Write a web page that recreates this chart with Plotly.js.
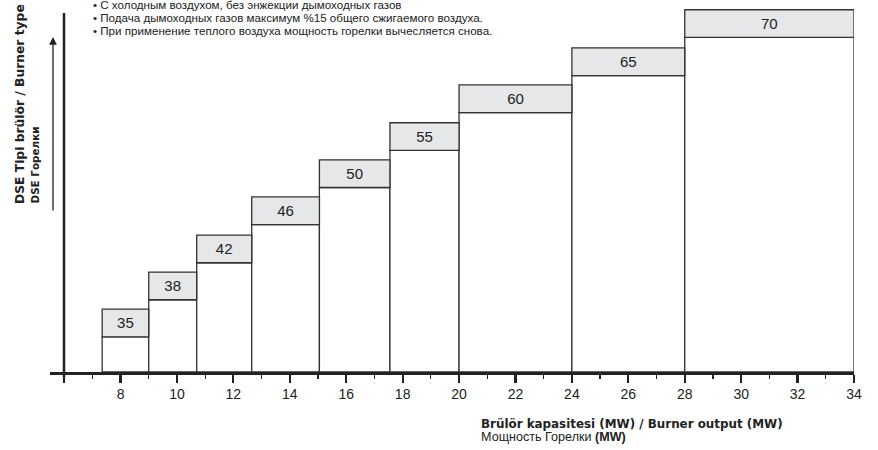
<!DOCTYPE html>
<html>
<head>
<meta charset="utf-8">
<script src="https://cdn.plot.ly/plotly-3.0.1.min.js"></script>
<style>html,body{margin:0;padding:0;background:#fff;}#chart{width:878px;height:450px;}</style>
</head>
<body>
<div id="chart"></div>
<script>
// Burner types (DSE) and their output ranges (MW)
const burnerTypes = [35, 38, 42, 46, 50, 55, 60, 65, 70];
const capMin = [7.35, 9.0, 10.7, 12.65, 15.05, 17.55, 20, 24, 28];
const capMax = [9.0, 10.7, 12.65, 15.05, 17.55, 20, 24, 28, 34];
// step height of each type's box (relative level)
const boxTop = [1.68, 2.67, 3.66, 4.68, 5.67, 6.66, 7.67, 8.66, 9.68];
const labelBand = 0.74;
const xTickVals = [6, 8, 10, 12, 14, 16, 18, 20, 22, 24, 26, 28, 30, 32, 34];
const xTickText = ['', '8', '10', '12', '14', '16', '18', '20', '22', '24', '26', '28', '30', '32', '34'];
const notes = [
  '• С холодным воздухом, без энжекции дымоходных газов',
  '• Подача дымоходных газов максимум %15 общего сжигаемого воздуха.',
  '• При применение теплого воздуха мощность горелки вычесляется снова.'
];

const centers = capMin.map((m, i) => (m + capMax[i]) / 2);
const widths = capMin.map((m, i) => capMax[i] - m);
const lineCol = '#333';

const bodyTrace = {
  type: 'bar', x: centers, width: widths, base: 0,
  y: boxTop.map(t => t - labelBand),
  marker: {color: '#ffffff', line: {color: lineCol, width: 1.3}},
  hoverinfo: 'skip', showlegend: false, cliponaxis: false
};
const bandTrace = {
  type: 'bar', x: centers, width: widths,
  base: boxTop.map(t => t - labelBand),
  y: boxTop.map(() => labelBand),
  marker: {color: '#e6e7e8', line: {color: lineCol, width: 1.3}},
  text: burnerTypes.map(String), textposition: 'inside', insidetextanchor: 'middle',
  textangle: 0, constraintext: 'none',
  textfont: {family: 'Liberation Sans, Arial, sans-serif', size: 15, color: '#222'},
  hoverinfo: 'skip', showlegend: false, cliponaxis: false
};

const W = 804, H = 363, L = 50, T = 9;
const px = x => (x - L) / W;
const py = y => (T + H - y) / H;

const annotations = [];
notes.forEach((n, i) => {
  annotations.push({
    xref: 'paper', yref: 'paper', x: px(92), y: py(4.5 + i * 13), xanchor: 'left', yanchor: 'middle',
    text: n, showarrow: false, borderpad: 0,
    font: {family: 'Liberation Sans Narrow, Arial Narrow, sans-serif', size: 11.6, color: '#222'}
  });
});
annotations.push({
  xref: 'paper', yref: 'paper', x: px(20), y: py(205), xanchor: 'center', yanchor: 'bottom',
  textangle: -90, text: '<b>DSE Tipi brülör / Burner type</b>', showarrow: false, borderpad: 0,
  font: {family: 'DejaVu Sans, sans-serif', size: 12.3, color: '#222'}
});
annotations.push({
  xref: 'paper', yref: 'paper', x: px(34), y: py(205), xanchor: 'center', yanchor: 'bottom',
  textangle: -90, text: '<b>DSE Горелки</b>', showarrow: false, borderpad: 0,
  font: {family: 'DejaVu Sans, sans-serif', size: 10.4, color: '#222'}
});
annotations.push({
  xref: 'paper', yref: 'paper', x: px(53), y: py(37), ax: 0, ay: 175,
  axref: 'pixel', ayref: 'pixel', text: '', showarrow: true,
  arrowhead: 2, arrowsize: 1.2, arrowwidth: 1.3, arrowcolor: '#222'
});
annotations.push({
  xref: 'paper', yref: 'paper', x: px(480), y: py(424), xanchor: 'left', yanchor: 'middle',
  text: '<b>Brülör kapasitesi (MW) / Burner output (MW)</b>', showarrow: false, borderpad: 0,
  font: {family: 'DejaVu Sans, sans-serif', size: 11.9, color: '#222'}
});
annotations.push({
  xref: 'paper', yref: 'paper', x: px(480), y: py(437), xanchor: 'left', yanchor: 'middle',
  text: 'Мощность Горелки <b>(MW)</b>', showarrow: false, borderpad: 0,
  font: {family: 'Liberation Sans Narrow, Arial Narrow, sans-serif', size: 12.6, color: '#222'}
});

const layout = {
  width: 878, height: 450,
  margin: {l: L, r: 878 - L - W, t: T, b: 450 - T - H},
  paper_bgcolor: '#fff', plot_bgcolor: '#fff',
  barmode: 'overlay', bargap: 0,
  showlegend: false,
  xaxis: {
    range: [5.5, 34], tickvals: xTickVals, ticktext: xTickText,
    showgrid: false, zeroline: false, showline: true, linecolor: '#222', linewidth: 2.5,
    ticks: 'outside', ticklen: 8, tickwidth: 2.2, tickcolor: '#222',
    minor: {dtick: 1, tick0: 6, ticks: 'outside', ticklen: 4, tickwidth: 1.3, tickcolor: '#222', showgrid: false},
    tickfont: {family: 'Liberation Sans, Arial, sans-serif', size: 14, color: '#222'},
    fixedrange: true
  },
  yaxis: {
    range: [0, 9.7], showgrid: false, zeroline: false, showline: false,
    ticks: '', showticklabels: false, fixedrange: true
  },
  shapes: [{
    type: 'line', xref: 'paper', yref: 'paper',
    x0: px(64), x1: px(64), y0: py(378), y1: py(13),
    line: {color: '#222', width: 2.5}
  }],
  annotations: annotations
};

Plotly.newPlot('chart', [bodyTrace, bandTrace], layout, {displayModeBar: false, staticPlot: true});
</script>
</body>
</html>
